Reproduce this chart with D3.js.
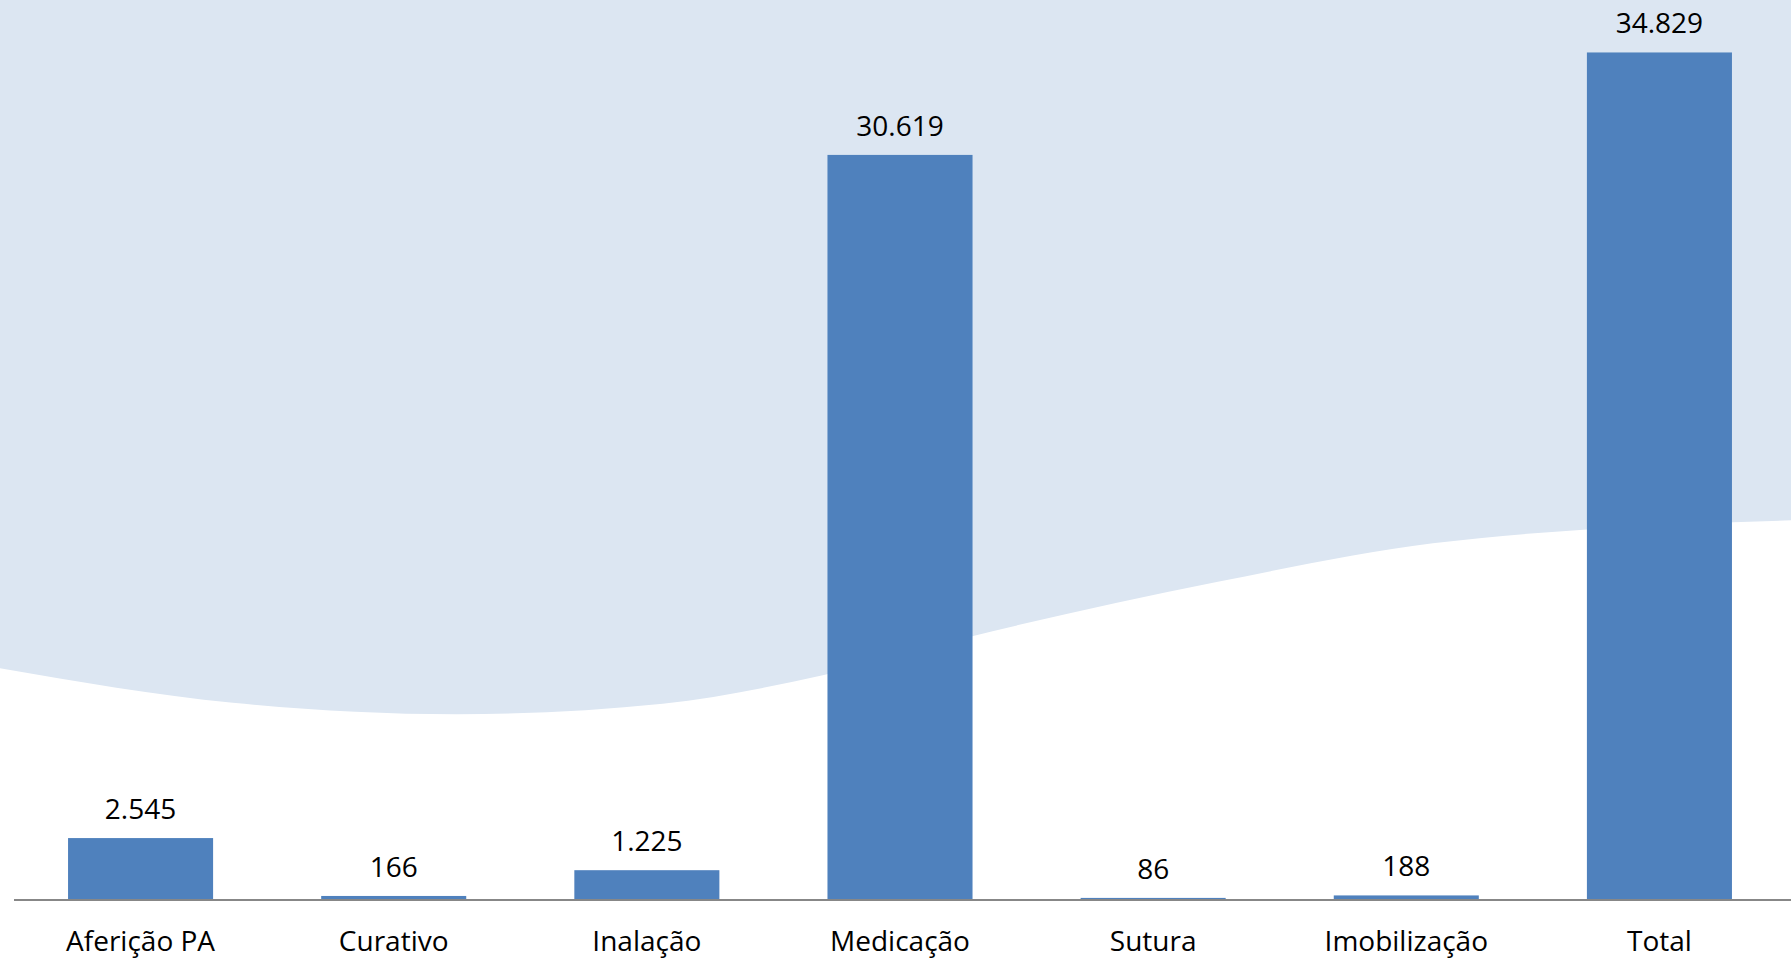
<!DOCTYPE html>
<html>
<head>
<meta charset="utf-8">
<script src="https://cdn.jsdelivr.net/npm/d3@7"></script>
<style>
  html, body { margin: 0; padding: 0; background: #ffffff; }
  svg { display: block; }
</style>
</head>
<body>
<svg id="chart" width="1791" height="960"></svg>
<script>
const categories = ["Aferição PA", "Curativo", "Inalação", "Medicação", "Sutura", "Imobilização", "Total"];
const values = [2545, 166, 1225, 30619, 86, 188, 34829];
const valueLabels = ["2.545", "166", "1.225", "30.619", "86", "188", "34.829"];

const W = 1791, H = 960;
const svg = d3.select("#chart");

// decorative background wave (fractions of the canvas)
const wave = [[0, 0.696], [0.13, 0.732], [0.255, 0.744], [0.37, 0.733], [0.46, 0.703],
              [0.54, 0.664], [0.68, 0.606], [0.8, 0.566], [0.89, 0.551], [1.0, 0.542]];
const waveLine = d3.line().curve(d3.curveMonotoneX)
  .x(d => d[0] * W).y(d => d[1] * H);
svg.append("path")
  .attr("d", waveLine(wave) + `L${W},0L0,0Z`)
  .attr("fill", "#DCE6F2");

const x = d3.scaleBand().domain(categories).range([14, 1786])
  .paddingInner(0.427).paddingOuter(0.2135);
const y = d3.scaleLinear().domain([0, 35000]).range([900, 48.3]);

svg.selectAll("rect.bar").data(values).join("rect")
  .attr("class", "bar")
  .attr("x", (d, i) => x(categories[i]))
  .attr("width", x.bandwidth())
  .attr("y", d => y(d))
  .attr("height", d => y(0) - y(d))
  .attr("fill", "#4F81BD");

// axis
const axis = d3.axisBottom(x).tickSize(0).tickPadding(0);
const gx = svg.append("g").attr("transform", `translate(0,${y(0)})`).call(axis);
gx.select(".domain").attr("d", `M14,0H${W}`).attr("stroke", "#878787").attr("stroke-width", 2);
gx.selectAll(".tick text")
  .attr("y", 51).attr("dy", null)
  .attr("font-family", "'Open Sans', sans-serif")
  .attr("font-size", 28)
  .attr("fill", "#000");

svg.selectAll("text.val").data(values).join("text")
  .attr("class", "val")
  .attr("x", (d, i) => x(categories[i]) + x.bandwidth() / 2)
  .attr("y", d => y(d) - 19)
  .attr("text-anchor", "middle")
  .attr("font-family", "'Open Sans', sans-serif")
  .attr("font-size", 28)
  .attr("fill", "#000")
  .text((d, i) => valueLabels[i]);
</script>
</body>
</html>
